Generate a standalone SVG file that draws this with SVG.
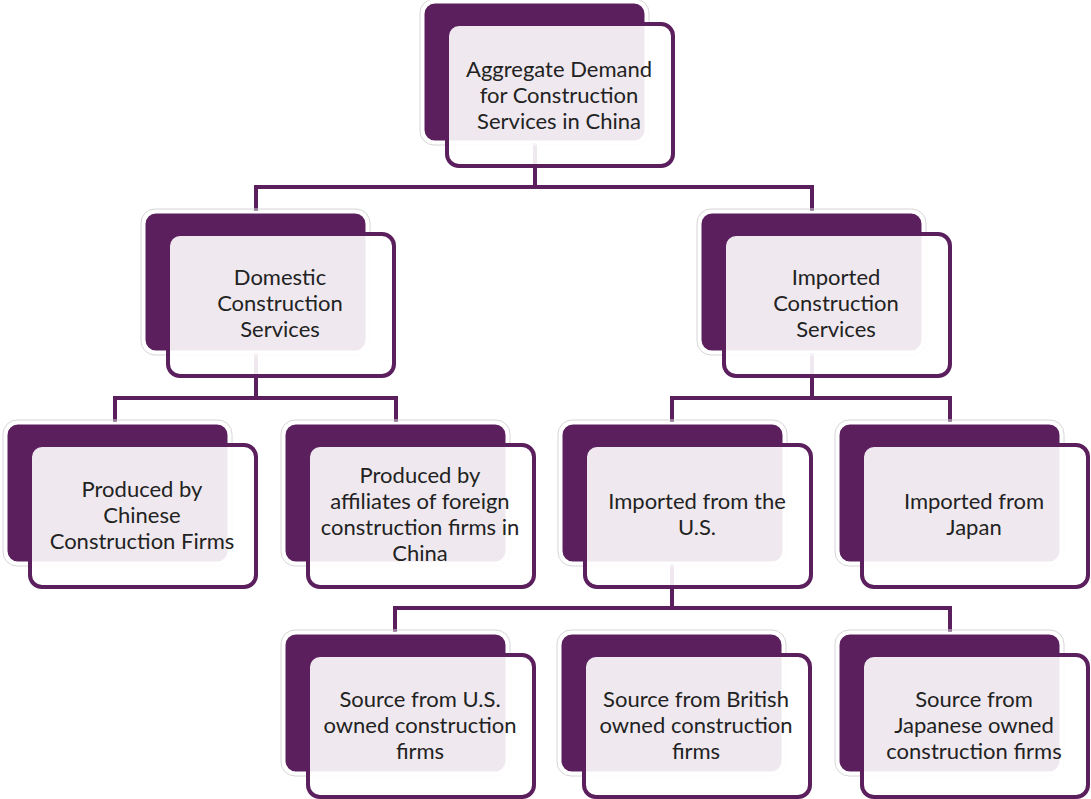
<svg xmlns="http://www.w3.org/2000/svg" width="1091" height="799" viewBox="0 0 1091 799">
<style>
.glow{fill:none;stroke:#d6d6d6;stroke-width:1}
.back{fill:#5b1f5e;stroke:#ffffff;stroke-width:3}
.front{fill:#ffffff;fill-opacity:0.9;stroke:#5b1f5e;stroke-width:4}
.conn{fill:none;stroke:#5b1f5e;stroke-width:4;stroke-linejoin:miter}
text{font-family:Lato,"Open Sans","Liberation Sans",sans-serif;font-size:22px;fill:#222222;text-anchor:middle}
</style>
<defs>
<g id="shape">
<rect class="glow" x="-3" y="-3" width="229" height="146" rx="14"/>
<rect class="back" x="0" y="0" width="223" height="140" rx="12"/>
<rect class="front" x="24" y="22" width="226" height="142" rx="12"/>
</g>
</defs>
<g id="connectors">
<path class="conn" d="M535 143 V187 M256 212 V187 H812 V212"/>
<path class="conn" d="M256 352 V398 M115 423 V398 H396 V423"/>
<path class="conn" d="M812 352 V398 M672 423 V398 H950 V423"/>
<path class="conn" d="M672 563 V608 M395 633 V608 H950 V633"/>
</g>
<g id="n-aggregate" transform="translate(423,2)">
<use href="#shape"/>
<text x="136" y="75">Aggregate Demand</text>
<text x="136" y="101">for Construction</text>
<text x="136" y="127">Services in China</text>
</g>
<g id="n-domestic" transform="translate(144,212)">
<use href="#shape"/>
<text x="136" y="73">Domestic</text>
<text x="136" y="99">Construction</text>
<text x="136" y="125">Services</text>
</g>
<g id="n-imported" transform="translate(700,212)">
<use href="#shape"/>
<text x="136" y="73">Imported</text>
<text x="136" y="99">Construction</text>
<text x="136" y="125">Services</text>
</g>
<g id="n-chinese" transform="translate(6,423)">
<use href="#shape"/>
<text x="136" y="74">Produced by</text>
<text x="136" y="100">Chinese</text>
<text x="136" y="126">Construction Firms</text>
</g>
<g id="n-affiliates" transform="translate(284,423)">
<use href="#shape"/>
<text x="136" y="60">Produced by</text>
<text x="136" y="86">affiliates of foreign</text>
<text x="136" y="112">construction firms in</text>
<text x="136" y="138">China</text>
</g>
<g id="n-us" transform="translate(561,423)">
<use href="#shape"/>
<text x="136" y="86">Imported from the</text>
<text x="136" y="112">U.S.</text>
</g>
<g id="n-japan" transform="translate(838,423)">
<use href="#shape"/>
<text x="136" y="86">Imported from</text>
<text x="136" y="112">Japan</text>
</g>
<g id="n-src-us" transform="translate(284,633)">
<use href="#shape"/>
<text x="136" y="74">Source from U.S.</text>
<text x="136" y="100">owned construction</text>
<text x="136" y="126">firms</text>
</g>
<g id="n-src-british" transform="translate(560,633)">
<use href="#shape"/>
<text x="136" y="74">Source from British</text>
<text x="136" y="100">owned construction</text>
<text x="136" y="126">firms</text>
</g>
<g id="n-src-japanese" transform="translate(838,633)">
<use href="#shape"/>
<text x="136" y="74">Source from</text>
<text x="136" y="100">Japanese owned</text>
<text x="136" y="126">construction firms</text>
</g>
</svg>
